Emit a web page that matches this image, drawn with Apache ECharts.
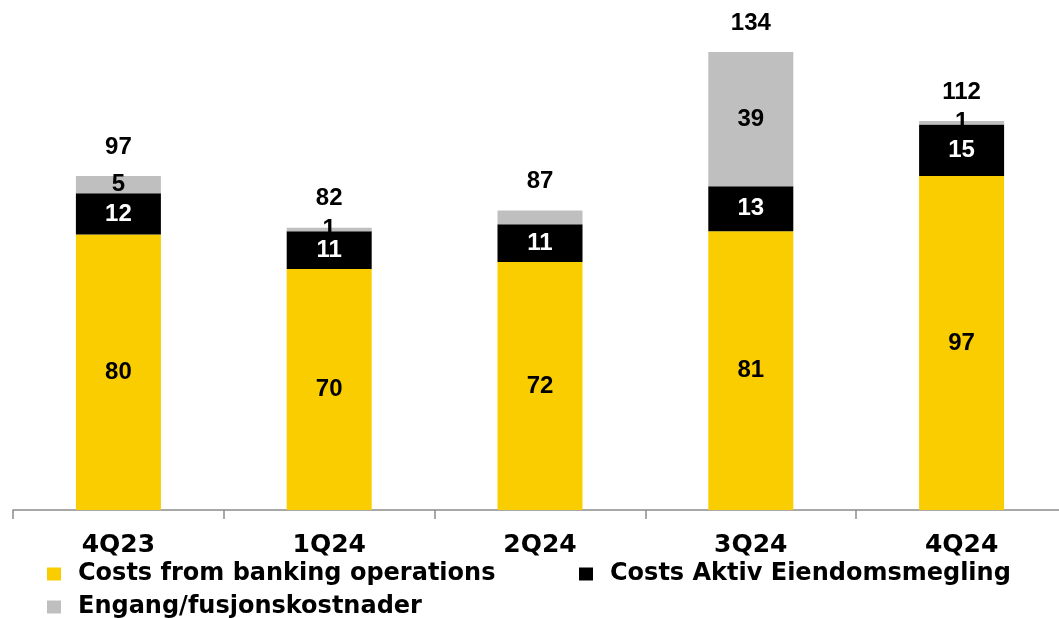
<!DOCTYPE html>
<html>
<head>
<meta charset="utf-8">
<script src="https://cdn.jsdelivr.net/npm/echarts@6/dist/echarts.min.js"></script>
<style>
  html, body { margin: 0; padding: 0; background: #fff; overflow: hidden; }
  /* the axis runs a little past the right edge of the window */
  #chart { width: 1080px; height: 618px; }
</style>
</head>
<body>
<div id="chart"></div>
<script>
// Quarterly cost breakdown (NOK million)
const quarters = ['4Q23', '1Q24', '2Q24', '3Q24', '4Q24'];
const bankingCosts = [80, 70, 72, 81, 97];
const aktivCosts = [12, 11, 11, 13, 15];
const oneOffCosts = [5, 1, 4, 39, 1];
const totals = [97, 82, 87, 134, 112];
// Segments whose value label is left out
const hiddenOneOffLabels = ['2Q24'];

const seriesNames = ['Costs from banking operations', 'Costs Aktiv Eiendomsmegling', 'Engang/fusjonskostnader'];
const colors = ['#FACD00', '#000000', '#BFBFBF'];

const VALUE_FONT = '"Liberation Sans", Arial, sans-serif';
const TEXT_FONT = '"DejaVu Sans", "Liberation Sans", sans-serif';
const labelBase = { show: true, position: 'inside', fontFamily: VALUE_FONT, fontWeight: 'bold', fontSize: 24 };

function segment(name, values, color, labelColor, hidden) {
  return {
    name: name,
    type: 'bar',
    stack: 'cost',
    barWidth: 85,
    itemStyle: { color: color },
    label: Object.assign({}, labelBase, { color: labelColor }),
    data: values.map((v, i) => {
      const item = { value: v };
      if (hidden && hidden.indexOf(quarters[i]) >= 0) item.label = { show: false };
      return item;
    })
  };
}

const chart = echarts.init(document.getElementById('chart'), null, { renderer: 'canvas' });

const legendCommon = {
  orient: 'horizontal',
  padding: 0,
  itemWidth: 14,
  itemHeight: 13,
  icon: 'rect',
  textStyle: { fontFamily: TEXT_FONT, fontWeight: 'bold', fontSize: 24, color: '#000', padding: [0, 0, 0, 12] },
  selectedMode: false
};

chart.setOption({
  animation: false,
  backgroundColor: '#fff',
  grid: { left: 13, width: 1054, top: 28, bottom: 108, containLabel: false },
  xAxis: {
    type: 'category',
    data: quarters,
    axisLine: { lineStyle: { color: '#8C8C8C', width: 1.5 } },
    axisTick: { show: true, inside: false, length: 9, lineStyle: { color: '#8C8C8C', width: 1.5 } },
    axisLabel: { margin: 23, color: '#000', fontFamily: TEXT_FONT, fontWeight: 'bold', fontSize: 25 }
  },
  yAxis: {
    type: 'value',
    min: 0,
    max: 140,
    show: false,
    splitLine: { show: false }
  },
  legend: [
    Object.assign({}, legendCommon, { data: [seriesNames[0]], left: 47, top: 562 }),
    Object.assign({}, legendCommon, { data: [seriesNames[1]], left: 579, top: 562 }),
    Object.assign({}, legendCommon, { data: [seriesNames[2]], left: 47, top: 595 })
  ],
  series: [
    segment(seriesNames[0], bankingCosts, colors[0], '#000'),
    segment(seriesNames[1], aktivCosts, colors[1], '#fff'),
    segment(seriesNames[2], oneOffCosts, colors[2], '#000', hiddenOneOffLabels),
    {
      // zero-height cap carrying the quarter total above each stack
      name: 'Total',
      type: 'bar',
      stack: 'cost',
      barWidth: 85,
      itemStyle: { color: 'transparent' },
      label: Object.assign({}, labelBase, {
        position: 'top',
        distance: 17,
        color: '#000',
        formatter: p => String(totals[p.dataIndex])
      }),
      data: quarters.map(() => 0)
    }
  ]
});
</script>
</body>
</html>
